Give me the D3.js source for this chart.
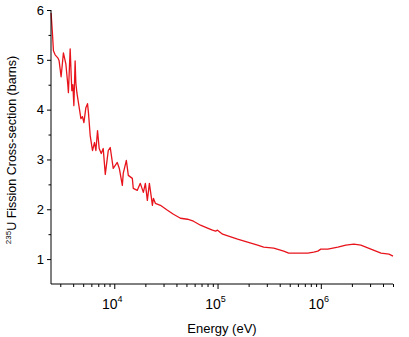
<!DOCTYPE html>
<html>
<head>
<meta charset="utf-8">
<script src="https://cdn.jsdelivr.net/npm/d3@7"></script>
<style>
  html, body { margin: 0; padding: 0; background: #fff; }
  svg { display: block; font-family: "Liberation Sans", Arial, sans-serif; }
</style>
</head>
<body>
<svg id="chart" width="409" height="337"></svg>
<script>
// Energy (eV) and 235U fission cross-section (barns)
const energy = [2445, 2518, 2576, 2675, 2840, 2924, 3057, 3218, 3397, 3550, 3597, 3741, 3828, 3882, 3972, 4064, 4178, 4246, 4345, 4498,
  4753, 4920, 5082, 5309, 5508, 5623, 5848, 6152, 6442, 6637, 6887, 7145, 7482, 7816, 8185, 8750, 9141, 9772, 10690, 11190,
  11970, 12220, 13090, 13680, 14960, 15280, 16710, 17870, 19130, 20000, 20910, 21880, 22860, 23390, 23930, 25000, 27970, 32740, 37410, 43750,
  51170, 58480, 68390, 79980, 89330, 95720, 100000, 111900, 127900, 156300, 195400, 244300, 279900, 349900, 437500, 488700, 598000, 747600, 855400, 935400,
  1000000, 1169000, 1462000, 1749000, 2091000, 2443000, 3055000, 3828000, 4571000, 5000000];
const sigma = [5.94, 5.54, 5.18, 5.10, 5.04, 4.98, 4.66, 5.14, 4.92, 4.50, 4.34, 5.22, 4.68, 4.38, 4.50, 4.08, 4.98, 4.54, 4.34, 4.14,
  3.82, 3.86, 3.74, 4.04, 4.12, 3.94, 3.48, 3.18, 3.34, 3.18, 3.58, 3.22, 3.12, 3.22, 2.70, 3.18, 3.24, 2.82, 2.94, 2.82,
  2.48, 2.72, 2.98, 2.68, 2.62, 2.42, 2.38, 2.52, 2.34, 2.52, 2.18, 2.52, 2.24, 2.08, 2.22, 2.12, 2.08, 1.98, 1.90, 1.82,
  1.80, 1.76, 1.68, 1.62, 1.58, 1.56, 1.58, 1.50, 1.46, 1.40, 1.34, 1.28, 1.24, 1.22, 1.16, 1.12, 1.12, 1.12, 1.14, 1.16,
  1.20, 1.20, 1.24, 1.28, 1.30, 1.28, 1.20, 1.12, 1.10, 1.06];

const yTicks = [1, 2, 3, 4, 5, 6];
const yMinorTicks = [1.5, 2.5, 3.5, 4.5, 5.5];
const xTicks = [1e4, 1e5, 1e6];
const xTickExp = ["4", "5", "6"];
const xMinorTicks = [3e3, 4e3, 5e3, 6e3, 7e3, 8e3, 9e3,
  2e4, 3e4, 4e4, 5e4, 6e4, 7e4, 8e4, 9e4,
  2e5, 3e5, 4e5, 5e5, 6e5, 7e5, 8e5, 9e5,
  2e6, 3e6, 4e6, 5e6];

const svg = d3.select("#chart");
const x = d3.scaleLog().domain([2440, 5.0e6]).range([51, 393]);
const y = d3.scaleLinear().domain([0.5, 6]).range([284, 10]);

// curve
const data = energy.map((e, i) => [e, sigma[i]]);
svg.append("path")
  .datum(data)
  .attr("fill", "none")
  .attr("stroke", "#e8141c")
  .attr("stroke-width", 1.3)
  .attr("stroke-linejoin", "round")
  .attr("d", d3.line().x(d => x(d[0])).y(d => y(d[1])));

// Y axis
const gy = svg.append("g").attr("transform", `translate(${x.range()[0]},0)`);
gy.call(d3.axisLeft(y).tickValues(yTicks).tickSize(4).tickPadding(3).tickFormat(d3.format("d")));
gy.append("g").call(d3.axisLeft(y).tickValues(yMinorTicks).tickSize(2.5).tickFormat(""))
  .select(".domain").remove();
gy.select(".domain").attr("d", `M0,${y.range()[1]}V${y.range()[0]}`);
gy.selectAll("text").attr("font-size", 13).attr("font-family", "Liberation Sans, Arial, sans-serif").attr("fill", "#000");

// X axis
const gx = svg.append("g").attr("transform", `translate(0,${y.range()[0]})`);
gx.call(d3.axisBottom(x).tickValues(xTicks).tickSize(5).tickFormat(""));
gx.append("g").call(d3.axisBottom(x).tickValues(xMinorTicks).tickSize(3).tickFormat(""))
  .select(".domain").remove();
gx.select(".domain").attr("d", `M${x.range()[0]},0H${x.range()[1]}`);
svg.selectAll(".domain, .tick line").attr("stroke", "#000").attr("stroke-width", 1);

// X tick labels with superscripts
xTicks.forEach((v, i) => {
  const t = svg.append("text")
    .attr("x", x(v) - 2)
    .attr("y", 309)
    .attr("text-anchor", "middle")
    .attr("font-size", 14)
    .attr("fill", "#000");
  t.append("tspan").text("10");
  t.append("tspan").attr("dy", -7).attr("font-size", 9).text(xTickExp[i]);
});

// X axis title
svg.append("text")
  .attr("x", 222).attr("y", 333)
  .attr("text-anchor", "middle")
  .attr("font-size", 13)
  .attr("fill", "#000")
  .text("Energy (eV)");

// Y axis title
const yl = svg.append("text")
  .attr("transform", "translate(16,150) rotate(-90)")
  .attr("text-anchor", "middle")
  .attr("font-size", 12.5)
  .attr("fill", "#000");
yl.append("tspan").attr("font-size", 8).attr("dy", -5).text("235");
yl.append("tspan").attr("dy", 5).text("U Fission Cross-section (barns)");
</script>
</body>
</html>
